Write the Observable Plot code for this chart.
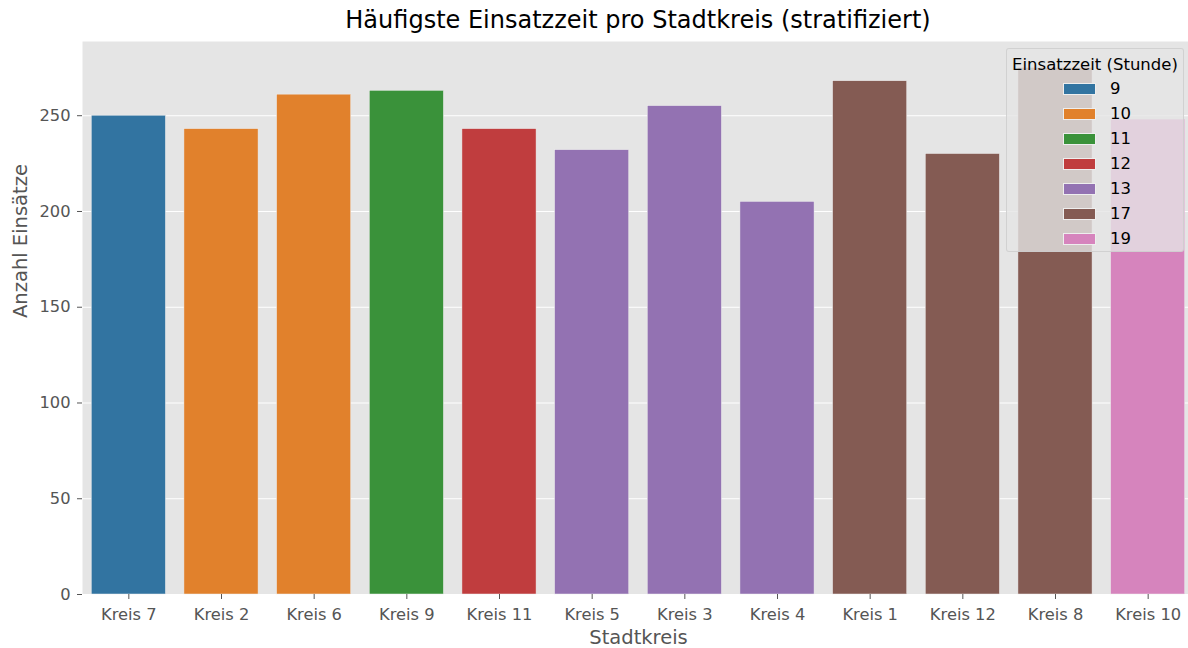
<!DOCTYPE html>
<html>
<head>
<meta charset="utf-8">
<script src="https://cdn.jsdelivr.net/npm/d3@7"></script>
<script src="https://cdn.jsdelivr.net/npm/@observablehq/plot@0.6"></script>
<style>
  html, body { margin: 0; padding: 0; background: #fff; overflow: hidden; width: 1188px; height: 648px; }
  #wrap { position: relative; width: 1194px; height: 648px; font-family: "DejaVu Sans", sans-serif; }
  #title { position: absolute; left: 82px; width: 1112px; top: 0; height: 41px; line-height: 41px; text-align: center; font-size: 24px; color: #000; white-space: nowrap; }
  #chart { position: absolute; left: 0; top: 41px; }
  #legend { position: absolute; left: 1006px; top: 48px; width: 178px; height: 204px; background: rgba(229,229,229,0.8); border: 1px solid rgba(204,204,204,0.8); border-radius: 3px; box-sizing: border-box; font-size: 16.5px; color: #000; }
  #legend .lt { position: absolute; left: 0; width: 100%; top: 6px; text-align: center; white-space: nowrap; }
  #legend .row { position: absolute; left: 0; height: 25px; width: 100%; }
  #legend .sw { position: absolute; left: 56px; top: 7px; width: 33px; height: 12px; box-sizing: border-box; border: 0.5px solid #eee; }
  #legend .lb { position: absolute; left: 103px; top: 0; line-height: 25px; }
</style>
</head>
<body>
<div id="wrap">
  <div id="title"></div>
  <div id="chart"></div>
  <div id="legend"></div>
</div>
<script>
const titleText = "Häufigste Einsatzzeit pro Stadtkreis (stratifiziert)";
const xLabel = "Stadtkreis";
const yLabel = "Anzahl Einsätze";
const legendTitle = "Einsatzzeit (Stunde)";

const kreise = ["Kreis 7","Kreis 2","Kreis 6","Kreis 9","Kreis 11","Kreis 5","Kreis 3","Kreis 4","Kreis 1","Kreis 12","Kreis 8","Kreis 10"];
const counts = [250, 243, 261, 263, 243, 232, 255, 205, 268, 230, 275, 248];
const peakHours = ["9","10","10","11","12","13","13","13","17","17","17","19"];
const hours = ["9","10","11","12","13","17","19"];
const colors = ["#3274a1","#e1812c","#3a923a","#c03d3e","#9372b2","#845b53","#d684bd"];
const yTicks = [0, 50, 100, 150, 200, 250];

const data = kreise.map((k, i) => ({kreis: k, count: counts[i], hour: peakHours[i]}));

document.getElementById("title").textContent = titleText;

const chart = Plot.plot({
  width: 1194,
  height: 607,
  marginTop: 0,
  marginBottom: 54,
  marginLeft: 82,
  marginRight: 0,
  style: {fontFamily: "DejaVu Sans", fontSize: "16.3px", color: "#555", background: "transparent", overflow: "visible"},
  x: {domain: kreise, paddingInner: 0.2, paddingOuter: 0.1, round: false, label: null},
  y: {domain: [0, 288.75], label: null},
  color: {type: "ordinal", domain: hours, range: colors},
  marks: [
    Plot.frame({fill: "#e5e5e5", stroke: null}),
    Plot.gridY(yTicks, {stroke: "white", strokeOpacity: 1, strokeWidth: 1.1}),
    Plot.barY(data, {x: "kreis", y: "count", fill: "hour", stroke: "#eeeeee", strokeWidth: 0.5}),
    Plot.axisX({tickSize: 5, tickPadding: 8.5, color: "#555", fontSize: 16.3, label: null}),
    Plot.axisY(yTicks, {tickSize: 5, tickPadding: 7, color: "#555", fontSize: 16.3, label: null}),
    Plot.text([xLabel], {frameAnchor: "bottom", text: d => d, dy: 43, lineAnchor: "middle", fontSize: 19.5, fill: "#555"}),
    Plot.text([yLabel], {frameAnchor: "left", text: d => d, dx: -62, rotate: -90, lineAnchor: "middle", fontSize: 19.5, fill: "#555"})
  ]
});
document.getElementById("chart").appendChild(chart);

const colorScale = chart.scale("color");
const legend = document.getElementById("legend");
const lt = document.createElement("div");
lt.className = "lt";
lt.textContent = legendTitle;
legend.appendChild(lt);
hours.forEach((h, i) => {
  const row = document.createElement("div");
  row.className = "row";
  row.style.top = (27 + i * 25) + "px";
  const sw = document.createElement("div");
  sw.className = "sw";
  sw.style.background = colorScale.apply(h);
  const lb = document.createElement("div");
  lb.className = "lb";
  lb.textContent = h;
  row.appendChild(sw);
  row.appendChild(lb);
  legend.appendChild(row);
});
</script>
</body>
</html>
